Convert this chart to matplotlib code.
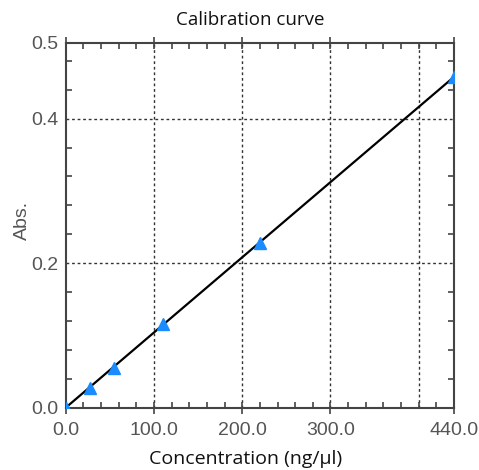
import numpy as np
import matplotlib
matplotlib.use("Agg")
import matplotlib.pyplot as plt
from matplotlib.ticker import MultipleLocator, FixedLocator

conc = [0.0, 27.5, 55.0, 110.0, 220.0, 440.0]
absorb = [0.0, 0.0273, 0.0547, 0.1155, 0.2285, 0.458]
xtick_vals = [0, 100, 200, 300, 440]
xtick_labels = ["0.0", "100.0", "200.0", "300.0", "440.0"]
ytick_vals = [0.0, 0.2, 0.4, 0.505]
ytick_labels = ["0.0", "0.2", "0.4", "0.5"]
xgrid = [100, 200, 300, 400]
ygrid = [0.2, 0.4]

x = np.array(conc)
y = np.array(absorb)
slope = np.sum(x * y) / np.sum(x * x)

fig = plt.figure(figsize=(4.79, 4.70), dpi=100)
ax = fig.add_axes([65.7 / 479, 1 - 407.7 / 470, (454 - 65.7) / 479, (407.7 - 42.7) / 470])

ax.set_xlim(0, 440)
ax.set_ylim(0, 0.505)

for g in xgrid:
    ax.axvline(g, color="#333333", lw=1.0, ls=(0, (2, 2)), zorder=1)
for g in ygrid:
    ax.axhline(g, color="#333333", lw=1.0, ls=(0, (2, 2)), zorder=1)

xl = np.array([0, 440])
ax.plot(xl, slope * xl, color="black", lw=1.6, zorder=2)
ax.plot(x, y, ls="none", marker="^", ms=9, color="#1a8cff", mec="#1a8cff", zorder=3)

ax.xaxis.set_major_locator(FixedLocator(xtick_vals))
ax.set_xticklabels(xtick_labels)
ax.xaxis.set_minor_locator(MultipleLocator(20))
ax.yaxis.set_major_locator(FixedLocator(ytick_vals))
ax.set_yticklabels(ytick_labels)
ax.yaxis.set_minor_locator(MultipleLocator(0.04))

for lab in ax.get_xticklabels() + ax.get_yticklabels():
    lab.set_fontfamily("Liberation Sans")
    lab.set_fontsize(14)
    lab.set_color("#555555")

ax.tick_params(axis="x", which="major", direction="inout", length=8, width=1.2, color="#444444", pad=6,
               top=True, bottom=True)
ax.tick_params(axis="x", which="minor", direction="in", length=4, width=1.2, color="#444444",
               top=True, bottom=True)
ax.tick_params(axis="y", which="major", direction="in", length=0, width=1.2, color="#444444", pad=5,
               left=True, right=True)
ax.tick_params(axis="y", which="minor", direction="in", length=4, width=1.2, color="#444444",
               left=True, right=True)

for s in ax.spines.values():
    s.set_color("#444444")
    s.set_linewidth(1.5)

fig.text(250 / 479, 1 - 20 / 470, "Calibration curve", ha="center", va="center",
         family="Open Sans", fontsize=13.5, color="#111111")
fig.text(246 / 479, 1 - 459 / 470, "Concentration (ng/µl)", ha="center", va="center",
         family="Open Sans", fontsize=14, color="#111111")
fig.text(22 / 479, 1 - 220 / 470, "Abs.", ha="center", va="center", rotation=90,
         family="Liberation Sans", fontsize=14, color="#555555")

fig.savefig("out.png", dpi=100)
